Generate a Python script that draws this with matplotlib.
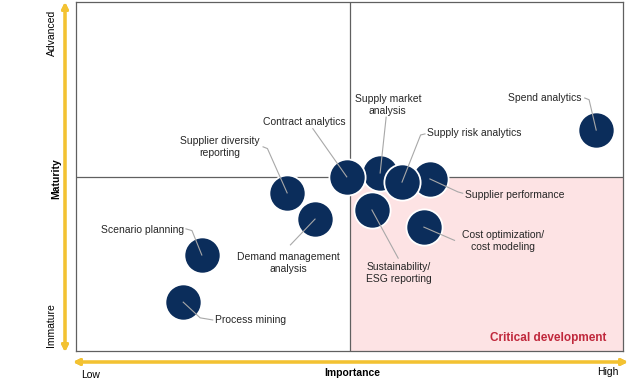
import matplotlib.pyplot as plt
from matplotlib.patches import Rectangle

plt.rcParams['font.family'] = ['Liberation Sans', 'DejaVu Sans']

# data (importance 0-10, maturity 0-10, midpoint 5), listed in drawing order
names = ['Process mining', 'Scenario planning', 'Supplier diversity\nreporting',
         'Demand management\nanalysis', 'Sustainability/\nESG reporting', 'Supply market\nanalysis',
         'Contract analytics', 'Cost optimization/\ncost modeling', 'Supplier performance',
         'Supply risk analytics', 'Spend analytics']
importance = [1.96, 2.30, 3.86, 4.37, 5.41, 5.56, 4.95, 6.36, 6.47, 5.96, 9.51]
maturity = [1.40, 2.75, 4.53, 3.78, 4.04, 5.10, 4.99, 3.55, 4.93, 4.84, 6.33]

# label layout: text x, text y, ha
label_pos = {
    'Process mining': (2.54, 0.89, 'left'),
    'Scenario planning': (1.97, 3.47, 'right'),
    'Supplier diversity\nreporting': (2.63, 5.85, 'center'),
    'Demand management\nanalysis': (3.89, 2.52, 'center'),
    'Contract analytics': (4.17, 6.56, 'center'),
    'Supply market\nanalysis': (5.70, 7.05, 'center'),
    'Sustainability/\nESG reporting': (5.90, 2.23, 'center'),
    'Supply risk analytics': (6.42, 6.25, 'left'),
    'Supplier performance': (7.11, 4.47, 'left'),
    'Cost optimization/\ncost modeling': (7.81, 3.15, 'center'),
    'Spend analytics': (9.25, 7.25, 'right'),
}
# leader line points from label towards the bubble centre
leaders = {
    'Process mining': [(2.50, 0.89), (2.27, 0.95)],
    'Scenario planning': [(2.01, 3.50), (2.12, 3.45)],
    'Supplier diversity\nreporting': [(3.42, 5.85), (3.50, 5.80)],
    'Demand management\nanalysis': [(3.92, 3.04)],
    'Contract analytics': [(4.33, 6.37)],
    'Supply market\nanalysis': [(5.67, 6.70)],
    'Sustainability/\nESG reporting': [(5.89, 2.66)],
    'Supply risk analytics': [(6.38, 6.22), (6.30, 6.19)],
    'Supplier performance': [(7.07, 4.52), (6.98, 4.56)],
    'Cost optimization/\ncost modeling': [(6.92, 3.17), (6.83, 3.23)],
    'Spend analytics': [(9.30, 7.25), (9.38, 7.20)],
}

navy = '#0b2d5b'
gold = '#f3c232'
grey_line = '#606060'

fig = plt.figure(figsize=(6.4, 3.8), dpi=100)
ax = fig.add_axes([76 / 640, 29 / 380, 547 / 640, 349 / 380])
ax.set_xlim(0, 10)
ax.set_ylim(0, 10)
ax.set_xticks([])
ax.set_yticks([])
for s in ax.spines.values():
    s.set_color(grey_line)
    s.set_linewidth(0.9)

# critical development quadrant
ax.add_patch(Rectangle((5, 0), 5, 5, facecolor='#fde3e4', edgecolor='none', zorder=0))
ax.axvline(5, color=grey_line, lw=0.9, zorder=1)
ax.axhline(5, color=grey_line, lw=0.9, zorder=1)

for name, xi, yi in zip(names, importance, maturity):
    ax.scatter([xi], [yi], s=680, color=navy, edgecolors='white', linewidths=1.3, zorder=3)
    pts = leaders[name] + [(xi, yi)]
    ax.plot([p[0] for p in pts], [p[1] for p in pts], color='#a8a8a8', lw=0.8, zorder=3.5)
    tx, ty, ha = label_pos[name]
    ax.text(tx, ty, name, ha=ha, va='center', fontsize=7.5, color='#262626',
            multialignment='center', linespacing=1.2, zorder=5)

ax.text(0.97, 0.02, 'Critical development', transform=ax.transAxes, ha='right', va='bottom',
        fontsize=8.5, fontweight='bold', color='#c0283c')

# axis arrows (figure pixel coords)
def px(x, y):
    return (x / 640, 1 - y / 380)

arrow = dict(arrowstyle='<|-|>', color=gold, lw=2.2, mutation_scale=9, shrinkA=0, shrinkB=0)
fig.add_artist(plt.annotate('', xy=px(65, 2), xytext=px(65, 352), xycoords='figure fraction',
                            textcoords='figure fraction', arrowprops=arrow))
fig.add_artist(plt.annotate('', xy=px(73, 362), xytext=px(628, 362), xycoords='figure fraction',
                            textcoords='figure fraction', arrowprops=arrow))

fig.text(*px(52, 33), 'Advanced', rotation=90, ha='center', va='center', fontsize=7.5)
fig.text(*px(51, 325), 'Immature', rotation=90, ha='center', va='center', fontsize=7.5)
fig.text(*px(56, 179), 'Maturity', rotation=90, ha='center', va='center', fontsize=7.5, fontweight='bold')
fig.text(*px(91, 375), 'Low', ha='center', va='center', fontsize=7.5)
fig.text(*px(608, 372), 'High', ha='center', va='center', fontsize=7.5)
fig.text(*px(352, 373), 'Importance', ha='center', va='center', fontsize=7.5, fontweight='bold')

fig.savefig('out.png', dpi=100)
